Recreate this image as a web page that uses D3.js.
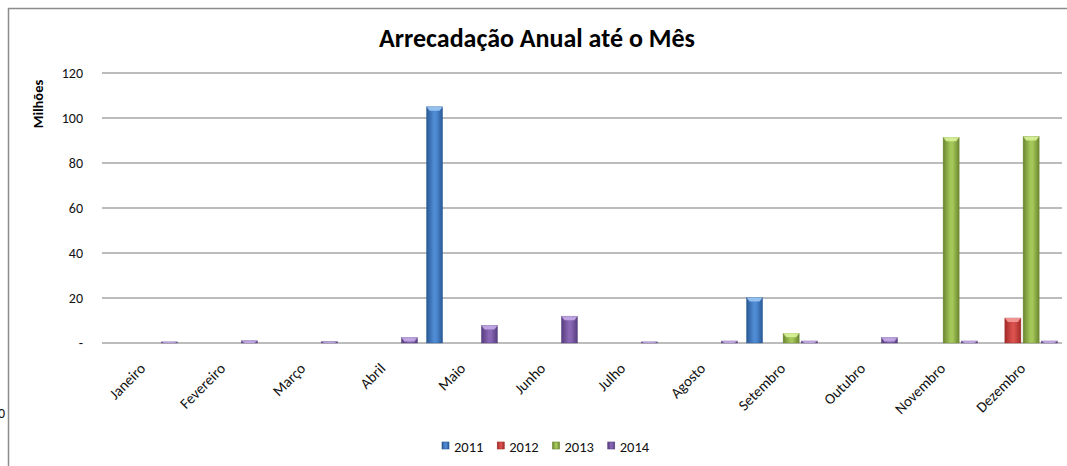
<!DOCTYPE html>
<html>
<head>
<meta charset="utf-8">
<script src="https://cdn.jsdelivr.net/npm/d3@7"></script>
<style>
  body { margin: 0; background: #fff; }
  svg { display: block; font-family: Carlito, Calibri, Lato, "Open Sans", sans-serif; }
</style>
</head>
<body>
<svg width="1067" height="466"></svg>
<script>
var months = ["Janeiro", "Fevereiro", "Março", "Abril", "Maio", "Junho", "Julho",
    "Agosto", "Setembro", "Outubro", "Novembro", "Dezembro"];
var years = ["2011", "2012", "2013", "2014"];
// valores em milhões
var v2011 = [0, 0, 0, 0, 105, 0, 0, 0, 20.2, 0, 0, 0];
var v2012 = [0, 0, 0, 0, 0, 0, 0, 0, 0, 0, 0, 11.1];
var v2013 = [0, 0, 0, 0, 0, 0, 0, 0, 4.3, 0, 91.4, 91.8];
var v2014 = [0.5, 1, 0.6, 2.4, 7.8, 11.9, 0.5, 0.9, 0.9, 2.4, 0.9, 0.9];
var yTicks = [0, 20, 40, 60, 80, 100, 120];

var series = [v2011, v2012, v2013, v2014];
var colors = {
    "2011": { edge: "#285894", mid: "#4f8bd3", top: "#9cc6f4" },
    "2012": { edge: "#a02a27", mid: "#d9504d", top: "#f39a98" },
    "2013": { edge: "#6a8630", mid: "#a4c75a", top: "#d9f29a" },
    "2014": { edge: "#563c7e", mid: "#8967b4", top: "#c4abe6" }
};

var svg = d3.select("svg");

function drawFrame() {
    svg.append("rect")
        .attr("x", 8.5).attr("y", 8.5)
        .attr("width", 1080).attr("height", 480)
        .attr("fill", "none")
        .attr("stroke", "#8c8c8c")
        .attr("stroke-width", 1.5);
    // rótulo cortado na borda esquerda
    svg.append("text")
        .attr("x", 5).attr("y", 418)
        .attr("text-anchor", "end")
        .attr("font-size", "14px")
        .attr("fill", "#111")
        .text("0");
}

function drawGradients() {
    var defs = svg.append("defs");
    years.forEach(function(yr) {
        var g = defs.append("linearGradient")
            .attr("id", "g" + yr)
            .attr("x1", "0").attr("x2", "1").attr("y1", "0").attr("y2", "0");
        g.append("stop").attr("offset", "0").attr("stop-color", colors[yr].edge);
        g.append("stop").attr("offset", "0.45").attr("stop-color", colors[yr].mid);
        g.append("stop").attr("offset", "0.6").attr("stop-color", colors[yr].mid);
        g.append("stop").attr("offset", "1").attr("stop-color", colors[yr].edge);
    });
}

function drawChart() {
    var x = d3.scaleBand().domain(months).range([102, 1062]);
    var xs = d3.scaleBand().domain(years).range([4.5, 75.5]).paddingInner(0.12);
    var y = d3.scaleLinear().domain([0, 120]).range([343, 73]);

    // grade
    svg.append("g")
        .selectAll("line").data(yTicks).enter()
        .append("line")
        .attr("x1", 102).attr("x2", 1062)
        .attr("y1", function(d) { return y(d); })
        .attr("y2", function(d) { return y(d); })
        .attr("stroke", "#a6a6a6")
        .attr("stroke-width", 1.3);

    // eixo y
    var yAxis = svg.append("g")
        .attr("transform", "translate(83,0)")
        .call(d3.axisLeft(y).tickValues(yTicks).tickSize(0).tickPadding(0)
            .tickFormat(function(d) { return d === 0 ? "-  " : d; }));
    yAxis.select(".domain").remove();
    yAxis.attr("font-family", null);
    yAxis.selectAll("text")
        .attr("font-size", "14px")
        .attr("fill", "#111");

    svg.append("text")
        .attr("transform", "translate(43,104) rotate(-90)")
        .attr("text-anchor", "middle")
        .attr("font-size", "14.5px")
        .attr("font-weight", "bold")
        .text("Milhões");

    // barras
    var rows = [];
    series.forEach(function(vals, i) {
        vals.forEach(function(v, j) {
            rows.push({ year: years[i], month: months[j], value: v });
        });
    });
    var bars = svg.append("g")
        .selectAll("g").data(rows.filter(function(d) { return d.value > 0; })).enter()
        .append("g");
    bars.append("rect")
        .attr("x", function(d) { return x(d.month) + xs(d.year); })
        .attr("y", function(d) { return y(d.value); })
        .attr("width", xs.bandwidth())
        .attr("height", function(d) { return y(0) - y(d.value); })
        .attr("fill", function(d) { return "url(#g" + d.year + ")"; })
        .attr("stroke", function(d) { return colors[d.year].edge; })
        .attr("stroke-opacity", 0.6)
        .attr("stroke-width", 0.6);
    bars.append("path")
        .attr("d", function(d) {
            var x0 = x(d.month) + xs(d.year), w = xs.bandwidth();
            var t = y(d.value), h = Math.min(4, y(0) - t);
            return "M" + x0 + "," + t + "L" + (x0 + w) + "," + t +
                "L" + (x0 + w - 3) + "," + (t + h) + "L" + (x0 + 3) + "," + (t + h) + "Z";
        })
        .attr("fill", function(d) { return colors[d.year].top; })
        .attr("opacity", 0.9);

    // eixo x
    var xAxis = svg.append("g")
        .attr("transform", "translate(0,343)")
        .call(d3.axisBottom(x).tickSize(0).tickPadding(0));
    xAxis.select(".domain").remove();
    xAxis.attr("font-family", null);
    xAxis.selectAll("text")
        .attr("font-size", "15px")
        .attr("fill", "#111")
        .attr("text-anchor", "end")
        .attr("dy", "0.7em")
        .attr("transform", "translate(-3,19) rotate(-45)");
}

function drawTitleAndLegend() {
    svg.append("text")
        .attr("x", 537)
        .attr("y", 47)
        .attr("text-anchor", "middle")
        .attr("font-size", "26px")
        .attr("font-weight", "bold")
        .text("Arrecadação Anual até o Mês");

    var leg = d3.scaleBand().domain(years).range([442, 663]);
    var item = svg.append("g").selectAll("g").data(years).enter()
        .append("g")
        .attr("transform", function(d) { return "translate(" + leg(d) + ",442)"; });
    item.append("rect")
        .attr("width", 7).attr("height", 7)
        .attr("fill", function(d) { return "url(#g" + d + ")"; })
        .attr("stroke", function(d) { return colors[d].edge; })
        .attr("stroke-width", 0.6);
    item.append("text")
        .attr("x", 12).attr("y", 10)
        .attr("font-size", "14.5px")
        .attr("fill", "#111")
        .text(function(d) { return d; });
}

drawGradients();
drawFrame();
drawChart();
drawTitleAndLegend();
</script>
</body>
</html>
